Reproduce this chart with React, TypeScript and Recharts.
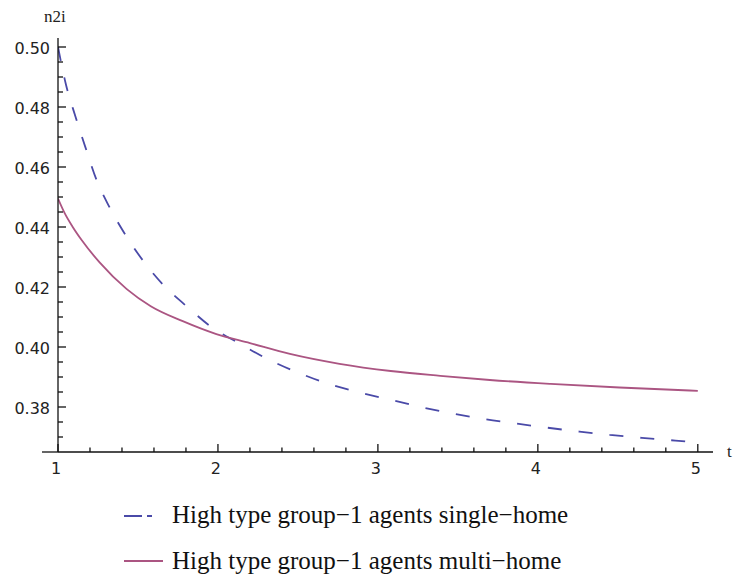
import React from "react";
import { LineChart, Line, XAxis, YAxis, ReferenceLine } from "recharts";

const singleHomeT = [1, 1.05, 1.11, 1.17, 1.24, 1.32, 1.42, 1.53, 1.66, 1.81, 1.96, 2.13, 2.31, 2.49, 2.68, 2.88, 3.08, 3.26, 3.46, 3.66, 3.86, 4.06, 4.26, 4.45, 4.65, 4.86, 5];
const singleHomeV = [0.5, 0.4874, 0.4767, 0.4668, 0.4558, 0.4468, 0.4375, 0.4289, 0.4206, 0.4133, 0.4066, 0.4013, 0.396, 0.3917, 0.3879, 0.3849, 0.3824, 0.3801, 0.3779, 0.376, 0.3745, 0.3731, 0.3718, 0.3707, 0.3697, 0.3688, 0.3682];

const multiHomeT = [1, 1.04, 1.09, 1.15, 1.26, 1.43, 1.58, 1.78, 1.99, 2.2, 2.45, 2.76, 3.08, 3.39, 3.7, 4.08, 4.51, 5];
const multiHomeV = [0.4495, 0.4448, 0.4402, 0.4355, 0.4282, 0.4193, 0.4136, 0.4086, 0.4043, 0.4013, 0.3977, 0.3944, 0.392, 0.3904, 0.389, 0.3877, 0.3865, 0.3854];

const xTicks = [1, 1.2, 1.4, 1.6, 1.8, 2, 2.2, 2.4, 2.6, 2.8, 3, 3.2, 3.4, 3.6, 3.8, 4, 4.2, 4.4, 4.6, 4.8, 5];
const yTicks = [0.37, 0.375, 0.38, 0.385, 0.39, 0.395, 0.4, 0.405, 0.41, 0.415, 0.42, 0.425, 0.43, 0.435, 0.44, 0.445, 0.45, 0.455, 0.46, 0.465, 0.47, 0.475, 0.48, 0.485, 0.49, 0.495, 0.5];

const seriesNames = ["High type group\u22121 agents single\u2212home", "High type group\u22121 agents multi\u2212home"];
const blue = "#4a4aa8";
const pink = "#ab5582";

const singleHome = singleHomeT.map((t, i) => ({ t, v: singleHomeV[i] }));
const multiHome = multiHomeT.map((t, i) => ({ t, v: multiHomeV[i] }));

const tickFont = { fontFamily: "DejaVu Sans", fontSize: 16, fill: "#222" };

const XTick = (props: any) => {
  const { x, y, payload } = props;
  const v = payload.value;
  const major = Math.abs(v - Math.round(v)) < 1e-6;
  return (
    <g>
      <line x1={x} x2={x} y1={y} y2={y - (major ? 8 : 4.5)} stroke="#111" strokeWidth={1.3} />
      {major && (
        <text x={x - 2} y={y + 22} textAnchor="middle" {...tickFont}>
          {Math.round(v)}
        </text>
      )}
    </g>
  );
};

const YTick = (props: any) => {
  const { x, y, payload } = props;
  const v = payload.value;
  const major = Math.round(v * 1000) % 20 === 0;
  return (
    <g>
      <line x1={x} x2={x + (major ? 8 : 5)} y1={y} y2={y} stroke="#111" strokeWidth={1.3} />
      {major && (
        <text x={x - 8} y={y + 7} textAnchor="end" {...tickFont}>
          {v.toFixed(2)}
        </text>
      )}
    </g>
  );
};

export default function App() {
  return (
    <div style={{ position: "fixed", left: 0, top: 0, width: 734, height: 579, background: "#fff" }}>
      <LineChart width={734} height={482} margin={{ top: 38, right: 21, bottom: 0, left: 0 }}>
        <XAxis
          dataKey="t"
          type="number"
          domain={[1, 5.095]}
          ticks={xTicks}
          interval={0}
          allowDataOverflow
          height={30}
          tickSize={0}
          tickMargin={0}
          tick={<XTick />}
          axisLine={{ stroke: "#111", strokeWidth: 1.3 }}
        />
        <YAxis
          type="number"
          domain={[0.365, 0.503]}
          ticks={yTicks}
          interval={0}
          allowDataOverflow
          width={58}
          tickSize={0}
          tickMargin={0}
          tick={<YTick />}
          axisLine={{ stroke: "#111", strokeWidth: 1.3 }}
        />
        <ReferenceLine
          segment={[{ x: 0.9, y: 0.365 }, { x: 1, y: 0.365 }]}
          ifOverflow="visible"
          stroke="#111"
          strokeWidth={1.3}
        />
        <Line
          data={singleHome}
          dataKey="v"
          type="monotone"
          stroke={blue}
          strokeWidth={1.8}
          strokeDasharray="14 17"
          dot={false}
          isAnimationActive={false}
        />
        <Line
          data={multiHome}
          dataKey="v"
          type="monotone"
          stroke={pink}
          strokeWidth={1.8}
          dot={false}
          isAnimationActive={false}
        />
      </LineChart>
      <svg width={734} height={579} style={{ position: "absolute", left: 0, top: 0, pointerEvents: "none" }}>
        <text x={44} y={22} fontFamily="Liberation Serif" fontSize={17} fill="#222">n2i</text>
        <text x={727} y={457} fontFamily="Liberation Serif" fontSize={17} fill="#222">t</text>
        <line x1={124} x2={163} y1={516} y2={516} stroke={blue} strokeWidth={1.8} strokeDasharray="18 5 5 20" />
        <text x={172} y={523} fontFamily="Liberation Serif" fontSize={25} fill="#111">{seriesNames[0]}</text>
        <line x1={124} x2={163} y1={561} y2={561} stroke={pink} strokeWidth={1.8} />
        <text x={172} y={569} fontFamily="Liberation Serif" fontSize={25} fill="#111">{seriesNames[1]}</text>
      </svg>
    </div>
  );
}
